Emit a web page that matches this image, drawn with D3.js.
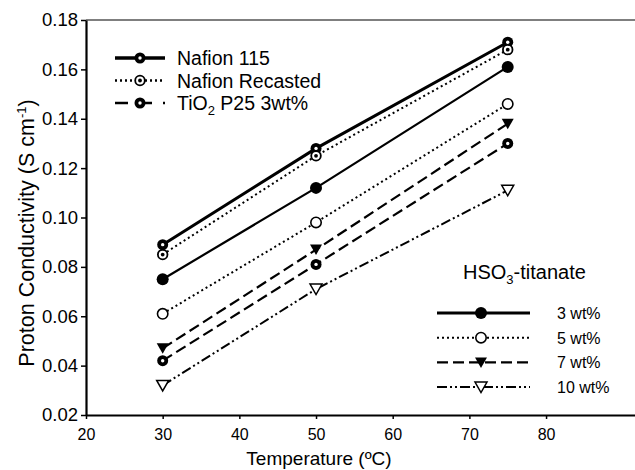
<!DOCTYPE html>
<html>
<head>
<meta charset="utf-8">
<script src="https://cdn.jsdelivr.net/npm/d3@7"></script>
<style>
  body { margin: 0; background: #fff; }
  svg { display: block; font-family: "Liberation Sans", Arial, sans-serif; }
</style>
</head>
<body>
<svg width="635" height="470"></svg>
<script>
// data
var temps = [30, 50, 75];
var nafion115 = [0.089, 0.128, 0.171];
var nafionRecast = [0.085, 0.125, 0.168];
var tio2 = [0.042, 0.081, 0.130];
var hso3_3 = [0.075, 0.112, 0.161];
var hso3_5 = [0.061, 0.098, 0.146];
var hso3_7 = [0.047, 0.087, 0.138];
var hso3_10 = [0.032, 0.071, 0.111];
var xTicks = [20, 30, 40, 50, 60, 70, 80];
var yTicks = [0.02, 0.04, 0.06, 0.08, 0.10, 0.12, 0.14, 0.16, 0.18];

// series styling
var series = [
  {name: "Nafion 115", vals: nafion115, width: 3, dash: null, marker: "holed"},
  {name: "Nafion Recasted", vals: nafionRecast, width: 2, dash: "2,3", marker: "bull"},
  {name: "TiO2", vals: tio2, width: 2.2, dash: "11,5", marker: "holed"},
  {name: "3 wt%", vals: hso3_3, width: 2.2, dash: null, marker: "dot"},
  {name: "5 wt%", vals: hso3_5, width: 2, dash: "2,3", marker: "ring"},
  {name: "7 wt%", vals: hso3_7, width: 2.2, dash: "11,5", marker: "tri"},
  {name: "10 wt%", vals: hso3_10, width: 2, dash: "10,3,2,3,2,3", marker: "trio"}
];

var svg = d3.select("svg");

var x = d3.scaleLinear().domain([20, 91.6]).range([86, 635]);
var y = d3.scaleLinear().domain([0.02, 0.18]).range([415, 20]);

// top frame line
svg.append("line")
  .attr("x1", x(20)).attr("x2", 635)
  .attr("y1", y(0.18)).attr("y2", y(0.18))
  .attr("stroke", "#000").attr("stroke-width", 1.2);

// axes
var xAxis = svg.append("g")
  .attr("transform", "translate(0," + y(0.02) + ")")
  .call(d3.axisBottom(x).tickValues(xTicks).tickSize(4).tickSizeOuter(0).tickFormat(d3.format("d")));
xAxis.select(".domain").attr("stroke-width", 2.2);
xAxis.selectAll(".tick line").attr("stroke-width", 1.5);
xAxis.selectAll("text").attr("font-size", 16).attr("dy", "1.15em").attr("fill", "#000");

var yAxis = svg.append("g")
  .attr("transform", "translate(" + x(20) + ",0)")
  .call(d3.axisLeft(y).tickValues(yTicks).tickSize(5).tickSizeOuter(0).tickFormat(d3.format(".2f")));
yAxis.select(".domain").attr("stroke-width", 2.2);
yAxis.selectAll(".tick line").attr("stroke-width", 1.5);
yAxis.selectAll("text").attr("font-size", 18.5).attr("x", -8).attr("fill", "#000");

// axis titles
svg.append("text")
  .attr("x", 319).attr("y", 465)
  .attr("text-anchor", "middle")
  .attr("font-size", 19)
  .text("Temperature (\u00baC)");

var yt = svg.append("text")
  .attr("transform", "translate(34,233) rotate(-90)")
  .attr("text-anchor", "middle")
  .attr("font-size", 21.5);
yt.append("tspan").text("Proton Conductivity (S cm");
yt.append("tspan").attr("font-size", 13).attr("dy", -8).text("-1");
yt.append("tspan").attr("dy", 8).text(")");

// marker drawing
function drawMarker(g, type) {
  if (type == "holed") {
    g.append("circle").attr("r", 5.5).attr("fill", "#000");
    g.append("circle").attr("r", 1.7).attr("fill", "#fff");
  } else if (type == "bull") {
    g.append("circle").attr("r", 4.8).attr("fill", "#fff").attr("stroke", "#000").attr("stroke-width", 1.8);
    g.append("circle").attr("r", 1.9).attr("fill", "#000");
  } else if (type == "dot") {
    g.append("circle").attr("r", 6).attr("fill", "#000");
  } else if (type == "ring") {
    g.append("circle").attr("r", 5.2).attr("fill", "#fff").attr("stroke", "#000").attr("stroke-width", 1.6);
  } else if (type == "tri") {
    g.append("path").attr("d", "M-6,-5L6,-5L0,5.5z").attr("fill", "#000");
  } else if (type == "trio") {
    g.append("path").attr("d", "M-6,-5L6,-5L0,5.5z").attr("fill", "#fff")
      .attr("stroke", "#000").attr("stroke-width", 1.5);
  }
}

var line = d3.line()
  .x(function(d, i) { return x(temps[i]); })
  .y(function(d) { return y(d); });

series.forEach(function(s) {
  svg.append("path")
    .attr("d", line(s.vals))
    .attr("fill", "none")
    .attr("stroke", "#000")
    .attr("stroke-width", s.width)
    .attr("stroke-dasharray", s.dash);
});

// markers after lines so they sit on top
series.forEach(function(s) {
  s.vals.forEach(function(v, i) {
    var g = svg.append("g")
      .attr("transform", "translate(" + x(temps[i]) + "," + y(v) + ")");
    drawMarker(g, s.marker);
  });
});

// legend 1 (top left)
var leg1 = [series[0], series[1], series[2]];
leg1.forEach(function(s, i) {
  var ly = 58 + i * 22.5;
  svg.append("line")
    .attr("x1", 115).attr("x2", 165).attr("y1", ly).attr("y2", ly)
    .attr("stroke", "#000").attr("stroke-width", i == 0 ? 3.5 : s.width + 0.5)
    .attr("stroke-dasharray", i == 2 ? "13,11" : s.dash);
  var g = svg.append("g").attr("transform", "translate(140," + ly + ")");
  drawMarker(g, s.marker);
  var t = svg.append("text").attr("x", 177).attr("y", ly + 7).attr("font-size", 19.5);
  if (i == 2) {
    t.append("tspan").text("TiO");
    t.append("tspan").attr("font-size", 13).attr("dy", 5).text("2");
    t.append("tspan").attr("dy", -5).text(" P25 3wt%");
  } else {
    t.text(s.name);
  }
});

// legend 2 (bottom right)
var ht = svg.append("text").attr("x", 463).attr("y", 279).attr("font-size", 20);
ht.append("tspan").text("HSO");
ht.append("tspan").attr("font-size", 13).attr("dy", 5).text("3");
ht.append("tspan").attr("dy", -5).text("-titanate");

var leg2 = [series[3], series[4], series[5], series[6]];
leg2.forEach(function(s, i) {
  var ly = 313 + i * 24.7;
  svg.append("line")
    .attr("x1", 437).attr("x2", 530).attr("y1", ly).attr("y2", ly)
    .attr("stroke", "#000").attr("stroke-width", i == 0 ? 3 : s.width)
    .attr("stroke-dasharray", s.dash);
  var g = svg.append("g").attr("transform", "translate(481," + ly + ")");
  drawMarker(g, s.marker);
  svg.append("text").attr("x", 557).attr("y", ly + 6).attr("font-size", 16).text(s.name);
});
</script>
</body>
</html>
